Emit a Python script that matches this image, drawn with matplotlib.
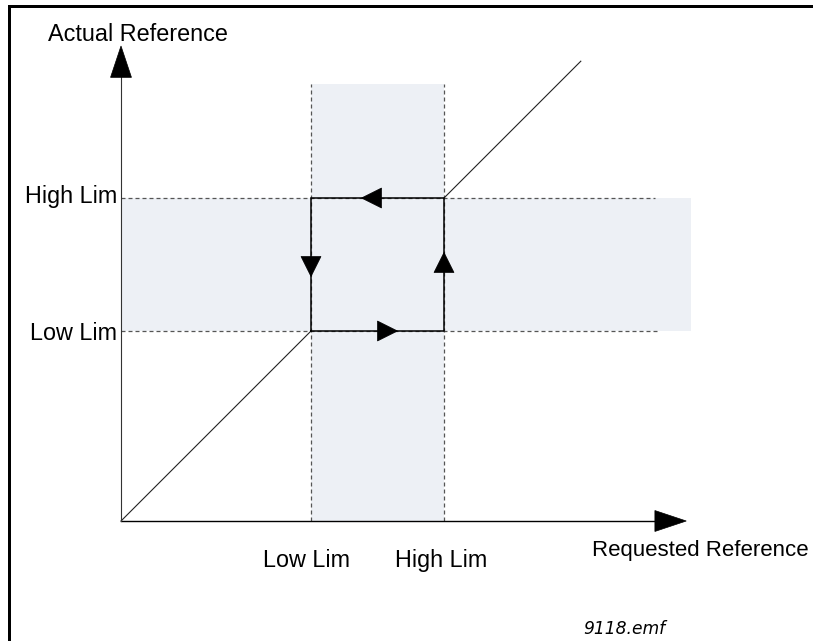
import matplotlib
matplotlib.use("Agg")
import matplotlib.pyplot as plt
from matplotlib.patches import Rectangle

# ---- data (in chart units; 0 = origin) ----
low_lim = 20.0
high_lim = 34.0
axis_x_end = 59.5
axis_y_end = 50.0
diag_end = 48.4
vband_top = 46.0
hband_right = 60.0
hdash_right = [56.7, 56.2]          # low, high dashed line ends
arrow_frac = [0.65, 0.59, 0.62, 0.59]  # bottom, right, top, left loop arrows
x_tick_labels = ["Low Lim", "High Lim"]
y_tick_labels = ["Low Lim", "High Lim"]
x_title = "Requested Reference"
y_title = "Actual Reference"
file_note = "9118.emf"

W, H, DPI = 813, 641, 100
ox, oy = 121, 521      # origin in pixels
s = 9.5                # pixels per unit

fig = plt.figure(figsize=(W / DPI, H / DPI), dpi=DPI)
ax = fig.add_axes([0, 0, 1, 1])
ax.set_xlim(-ox / s, (W - ox) / s)
ax.set_ylim(-(H - oy) / s, oy / s)
ax.axis("off")

def px(x):
    return (x - ox) / s

def py(y):
    return (oy - y) / s

band = "#edf0f5"
# bands
ax.add_patch(Rectangle((low_lim, 0), high_lim - low_lim, vband_top,
                       facecolor=band, edgecolor="none", zorder=1))
ax.add_patch(Rectangle((0, low_lim), hband_right, high_lim - low_lim,
                       facecolor=band, edgecolor="none", zorder=1))

dash_kw = dict(color="#555555", lw=0.9, dashes=(3.2, 2.4), zorder=2)
ax.plot([low_lim, low_lim], [0, vband_top], **dash_kw)
ax.plot([high_lim, high_lim], [0, vband_top], **dash_kw)
ax.plot([0, hdash_right[0]], [low_lim, low_lim], **dash_kw)
ax.plot([0, hdash_right[1]], [high_lim, high_lim], **dash_kw)

# diagonal reference line
ax.plot([0, low_lim], [0, low_lim], color="#222222", lw=0.8, zorder=3)
ax.plot([high_lim, diag_end], [high_lim, diag_end], color="#222222", lw=0.8, zorder=3)

# hysteresis loop
loop_x = [low_lim, high_lim, high_lim, low_lim, low_lim]
loop_y = [low_lim, low_lim, high_lim, high_lim, low_lim]
ax.plot(loop_x, loop_y, color="black", lw=1.1, zorder=3, solid_joinstyle="miter")

hl = 2.1
hw = 2.1
segs = [((low_lim, low_lim), (high_lim, low_lim)),
        ((high_lim, low_lim), (high_lim, high_lim)),
        ((high_lim, high_lim), (low_lim, high_lim)),
        ((low_lim, high_lim), (low_lim, low_lim))]
for (p0, p1), f in zip(segs, arrow_frac):
    tx = p0[0] + (p1[0] - p0[0]) * f
    ty = p0[1] + (p1[1] - p0[1]) * f
    dx = (p1[0] - p0[0])
    dy = (p1[1] - p0[1])
    n = (dx ** 2 + dy ** 2) ** 0.5
    ux, uy = dx / n, dy / n
    ax.arrow(tx - ux * hl, ty - uy * hl, ux * hl, uy * hl, width=0.0,
             head_width=hw, head_length=hl, length_includes_head=True,
             fc="black", ec="black", lw=0.5, zorder=5)

# axes
ax.plot([0, axis_x_end - 3.0], [0, 0], color="black", lw=1.0, zorder=4)
ax.plot([0, 0], [0, axis_y_end - 3.0], color="#333333", lw=0.8, zorder=4)
ax.arrow(axis_x_end - 3.3, 0, 3.3, 0, width=0, head_width=2.2, head_length=3.3,
         length_includes_head=True, fc="black", ec="black", lw=0.5, zorder=5)
ax.arrow(0, axis_y_end - 3.3, 0, 3.3, width=0, head_width=2.2, head_length=3.3,
         length_includes_head=True, fc="black", ec="black", lw=0.5, zorder=5)

font = ["Liberation Sans", "DejaVu Sans"]
fs = 16.8
ax.text(px(48), py(41), y_title, family=font, fontsize=fs, ha="left", va="baseline")
ax.text(px(592), py(556), x_title, family=font, fontsize=16.0, ha="left", va="baseline")
ax.text(px(117), py(340), y_tick_labels[0], family=font, fontsize=fs, ha="right", va="baseline")
ax.text(px(117), py(203), y_tick_labels[1], family=font, fontsize=fs, ha="right", va="baseline")
ax.text(low_lim - 0.5, py(567), x_tick_labels[0], family=font, fontsize=fs, ha="center", va="baseline")
ax.text(high_lim - 0.35, py(567), x_tick_labels[1], family=font, fontsize=fs, ha="center", va="baseline")
ax.text(px(583), py(634), file_note, family="DejaVu Sans", style="italic",
        fontsize=12.3, ha="left", va="baseline")

# frame (top and left edges)
fig.add_artist(Rectangle((8 / W, 1 - 8 / H), (W - 8) / W, 3 / H,
                         transform=fig.transFigure, facecolor="black", edgecolor="none"))
fig.add_artist(Rectangle((8 / W, 0), 3 / W, (H - 5) / H,
                         transform=fig.transFigure, facecolor="black", edgecolor="none"))

fig.savefig("out.png", dpi=DPI)
